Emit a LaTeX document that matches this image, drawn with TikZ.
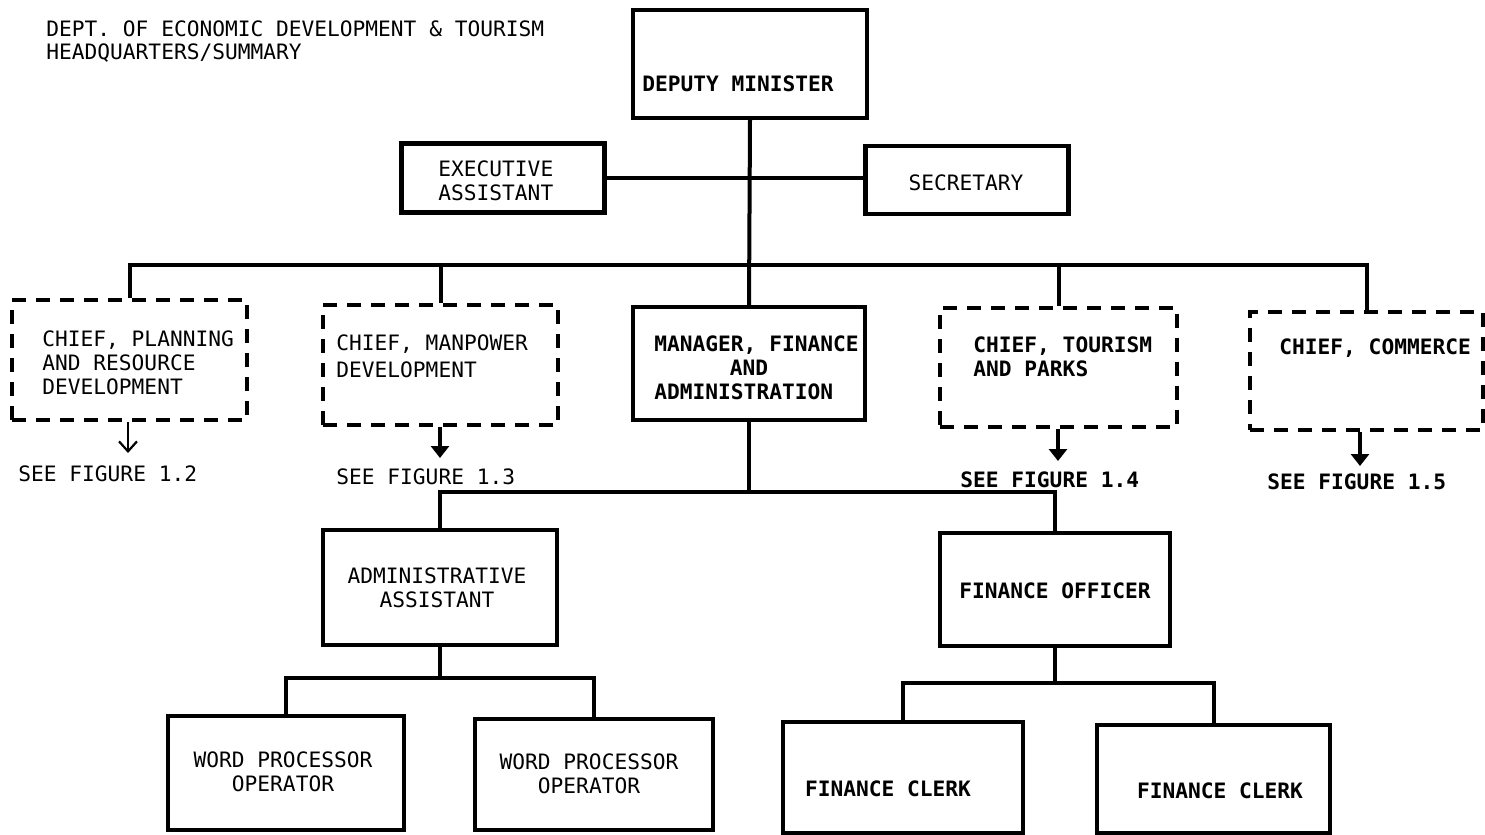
\documentclass[tikz,border=0pt]{standalone}
\usepackage{fontspec}
\setmainfont{DejaVu Sans Mono}
\usetikzlibrary{arrows.meta}
\tikzset{
  box/.style={draw,line width=2.1pt,inner sep=0pt},
  dbox/.style={draw,line width=2.1pt,inner sep=0pt,dash pattern=on 7pt off 5pt},
  conn/.style={line width=2pt},
  txt/.style={inner sep=0pt,anchor=base,font=\fontsize{10.6}{12}\selectfont},
  btxt/.style={txt,font=\fontsize{10.6}{12}\selectfont\bfseries},
  thinarrow/.style={line width=1.1pt,-{Straight Barb[length=5pt,width=9pt]}},
  boldarrow/.style={line width=2pt,-{Triangle[length=6pt,width=9pt]}}
}
\begin{document}
\begin{tikzpicture}[x=0.5pt,y=-0.5pt]
\useasboundingbox (0,0) rectangle (1485,835);

% title
\node[txt,anchor=base west] (t1) at (46,36) {DEPT. OF ECONOMIC DEVELOPMENT \& TOURISM};
\node[txt,anchor=base west] (t2) at (46,59) {HEADQUARTERS/SUMMARY};

% boxes (sizes in half points)
\node[box,minimum width=117pt,minimum height=54pt] (dm) at (750,64) {};
\node[box,minimum width=101.5pt,minimum height=34.5pt] (ea) at (503,178) {};
\node[box,minimum width=101.5pt,minimum height=34pt] (sec) at (967,180) {};
\node[dbox,minimum width=117.5pt,minimum height=60pt] (c1) at (129.5,360) {};
\node[dbox,minimum width=117.5pt,minimum height=60pt] (c2) at (440.5,365) {};
\node[box,minimum width=116pt,minimum height=56.5pt] (mgr) at (749,363.5) {};
\node[dbox,minimum width=118.5pt,minimum height=59.5pt] (c4) at (1058.5,367.5) {};
\node[dbox,minimum width=116.5pt,minimum height=59pt] (c5) at (1366.5,371) {};
\node[box,minimum width=117pt,minimum height=57.5pt] (adm) at (440,587.5) {};
\node[box,minimum width=115pt,minimum height=56.5pt] (fo) at (1055,589.5) {};
\node[box,minimum width=118pt,minimum height=57pt] (wp1) at (286,773) {};
\node[box,minimum width=119pt,minimum height=55.5pt] (wp2) at (594,774.5) {};
\node[box,minimum width=120pt,minimum height=55.5pt] (fc1) at (903,777.5) {};
\node[box,minimum width=116.5pt,minimum height=54pt] (fc2) at (1213.5,779) {};

% box texts
\node[btxt] (dmT) at (738,91) {DEPUTY MINISTER};
\node[txt,anchor=base west] (eaT1) at (438,176) {EXECUTIVE};
\node[txt,anchor=base west] (eaT2) at (438,200) {ASSISTANT};
\node[txt] (secT) at (966,190) {SECRETARY};
\node[txt,anchor=base west] (c1T1) at (42,346) {CHIEF, PLANNING};
\node[txt,anchor=base west] (c1T2) at (42,370) {AND RESOURCE};
\node[txt,anchor=base west] (c1T3) at (42,394) {DEVELOPMENT};
\node[txt,anchor=base west] (c2T1) at (336,350) {CHIEF, MANPOWER};
\node[txt,anchor=base west] (c2T2) at (336,377) {DEVELOPMENT};
\node[btxt,anchor=base west] (mgrT1) at (654,351) {MANAGER, FINANCE};
\node[btxt] (mgrT2) at (749,375) {AND};
\node[btxt,anchor=base west] (mgrT3) at (654,399) {ADMINISTRATION};
\node[btxt,anchor=base west] (c4T1) at (973,352) {CHIEF, TOURISM};
\node[btxt,anchor=base west] (c4T2) at (973,376) {AND PARKS};
\node[btxt,anchor=base west] (c5T) at (1279,354) {CHIEF, COMMERCE};
\node[txt] (admT1) at (437,583) {ADMINISTRATIVE};
\node[txt] (admT2) at (437,607) {ASSISTANT};
\node[btxt] (foT) at (1055,598) {FINANCE OFFICER};
\node[txt] (wp1T1) at (283,767) {WORD PROCESSOR};
\node[txt] (wp1T2) at (283,791) {OPERATOR};
\node[txt] (wp2T1) at (589,769) {WORD PROCESSOR};
\node[txt] (wp2T2) at (589,793) {OPERATOR};
\node[btxt] (fc1T) at (888,796) {FINANCE CLERK};
\node[btxt] (fc2T) at (1220,798) {FINANCE CLERK};

% cross references
\node[txt,anchor=base west] (see1) at (18,481) {SEE FIGURE 1.2};
\node[txt,anchor=base west] (see2) at (336,484) {SEE FIGURE 1.3};
\node[btxt,anchor=base west] (see4) at (960,487) {SEE FIGURE 1.4};
\node[btxt,anchor=base west] (see5) at (1267,489) {SEE FIGURE 1.5};
\coordinate (tip1) at (128,453);
\coordinate (tip2) at (440,458);
\coordinate (tip4) at (1058,461);
\coordinate (tip5) at (1360,466);
\draw[thinarrow] (tip1 |- c1.south) -- (tip1);
\draw[boldarrow] (tip2 |- c2.south) -- (tip2);
\draw[boldarrow] (tip4 |- c4.south) -- (tip4);
\draw[boldarrow] (tip5 |- c5.south) -- (tip5);

% reporting lines
\draw[conn] (dm.south) -- (mgr.north);
\draw[conn] (ea.east) -- (ea.east -| sec.west);
\coordinate (busL) at (129.5,265);
\coordinate (busR) at (1366.5,265);
\draw[conn] (c1.north) -- (busL) -- (busR) -- (c5.north);
\draw[conn] (c2.north) -- (c2.north |- busL);
\draw[conn] (c4.north) -- (c4.north |- busL);
\coordinate (bus2) at (749,492);
\draw[conn] (mgr.south) -- (bus2);
\draw[conn] (adm.north) |- (bus2) -| (fo.north);
\coordinate (bus3) at (440,678);
\draw[conn] (adm.south) -- (bus3);
\draw[conn] (wp1.north) |- (bus3) -| (wp2.north);
\coordinate (bus4) at (1055,683);
\draw[conn] (fo.south) -- (bus4);
\draw[conn] (fc1.north) |- (bus4) -| (fc2.north);
\end{tikzpicture}
\end{document}
